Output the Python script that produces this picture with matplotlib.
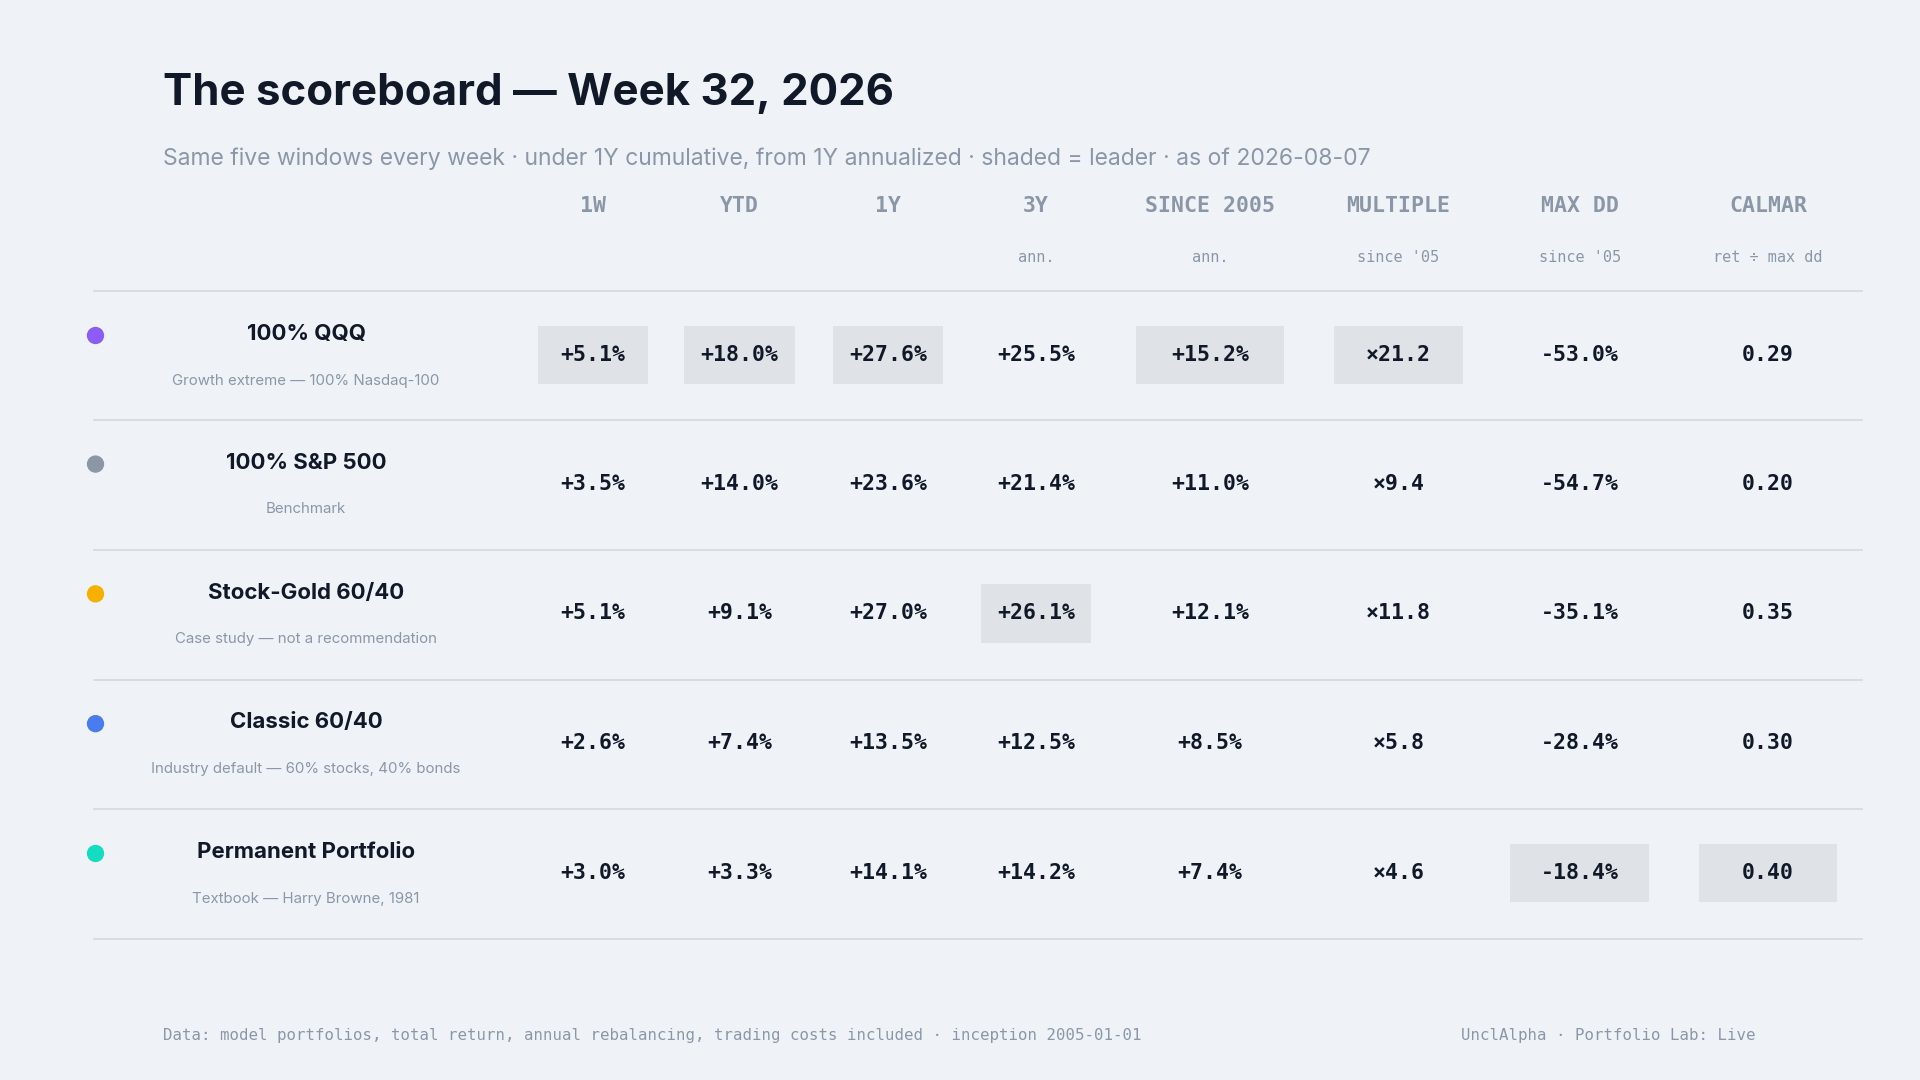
import matplotlib
matplotlib.use("Agg")
import matplotlib.pyplot as plt
from matplotlib.patches import Rectangle, Circle

# data
portfolios = ['100% QQQ', '100% S&P 500', 'Stock-Gold 60/40', 'Classic 60/40', 'Permanent Portfolio']
descriptions = ['Growth extreme — 100% Nasdaq-100', 'Benchmark', 'Case study — not a recommendation',
                'Industry default — 60% stocks, 40% bonds', 'Textbook — Harry Browne, 1981']
dot_colors = ['#8b5cf6', '#8b97a6', '#f5b000', '#4a7cf0', '#14dcc0']
columns = ['1W', 'YTD', '1Y', '3Y', 'SINCE 2005', 'MULTIPLE', 'MAX DD', 'CALMAR']
subheads = ['', '', '', 'ann.', 'ann.', "since '05", "since '05", 'ret ÷ max dd']
ret_1w = ['+5.1%', '+3.5%', '+5.1%', '+2.6%', '+3.0%']
ret_ytd = ['+18.0%', '+14.0%', '+9.1%', '+7.4%', '+3.3%']
ret_1y = ['+27.6%', '+23.6%', '+27.0%', '+13.5%', '+14.1%']
ret_3y = ['+25.5%', '+21.4%', '+26.1%', '+12.5%', '+14.2%']
ret_2005 = ['+15.2%', '+11.0%', '+12.1%', '+8.5%', '+7.4%']
multiple = ['×21.2', '×9.4', '×11.8', '×5.8', '×4.6']
max_dd = ['-53.0%', '-54.7%', '-35.1%', '-28.4%', '-18.4%']
calmar = ['0.29', '0.20', '0.35', '0.30', '0.40']
values = [ret_1w, ret_ytd, ret_1y, ret_3y, ret_2005, multiple, max_dd, calmar]
leaders = [0, 0, 0, 2, 0, 0, 4, 4]   # row index of leader per column

# layout (pixel space of a 1568x882 canvas)
col_x = [484, 604, 725, 846, 988, 1142, 1290, 1444]
box_w = [90, 90, 90, 90, 121, 105, 113, 113]
row_y = [290, 395, 501, 607, 713]
line_y = [238, 343, 449, 555, 661, 767]

BG = '#eff3f8'
DARK = '#111827'
GREY = '#8b97a6'
SHADE = '#dfe2e6'
SANS = ['Inter', 'DejaVu Sans']
MONO = ['DejaVu Sans Mono']

fig = plt.figure(figsize=(19.2, 10.8), dpi=100, facecolor=BG)
ax = fig.add_axes([0, 0, 1, 1])
ax.set_xlim(0, 1568)
ax.set_ylim(882, 0)
ax.axis('off')

ax.text(133, 76, 'The scoreboard — Week 32, 2026', fontsize=31.5, fontweight='bold',
        color=DARK, family=SANS, va='center')
ax.text(133, 130, 'Same five windows every week · under 1Y cumulative, from 1Y annualized · '
        'shaded = leader · as of 2026-08-07', fontsize=16.5, color=GREY, family=SANS, va='center')

for x, c, s in zip(col_x, columns, subheads):
    ax.text(x, 168, c, fontsize=15.5, fontweight='bold', color=GREY, family=MONO, ha='center', va='center')
    if s:
        ax.text(x, 210, s, fontsize=11, color=GREY, family=MONO, ha='center', va='center')

for y in line_y:
    ax.plot([77, 1521], [y, y], color='#d5dbe2', lw=1.3)

for i, (name, desc, dc) in enumerate(zip(portfolios, descriptions, dot_colors)):
    y = row_y[i]
    ax.add_patch(Circle((78, y - 16), 6.5, color=dc))
    ax.text(250, y - 17, name, fontsize=16, fontweight='bold', color=DARK, family=SANS,
            ha='center', va='center')
    ax.text(250, y + 21, desc, fontsize=10.8, color=GREY, family=SANS, ha='center', va='center')

for j, col in enumerate(values):
    for i, v in enumerate(col):
        y = row_y[i]
        if leaders[j] == i:
            ax.add_patch(Rectangle((col_x[j] - box_w[j] / 2, y - 24), box_w[j], 48,
                                   color=SHADE, lw=0))
        ax.text(col_x[j], y, v, fontsize=15.5, fontweight='bold', color=DARK, family=MONO,
                ha='center', va='center')

ax.text(133, 846, 'Data: model portfolios, total return, annual rebalancing, trading costs included · '
        'inception 2005-01-01', fontsize=11.3, color=GREY, family=MONO, va='center')
ax.text(1434, 846, 'UnclAlpha · Portfolio Lab: Live', fontsize=11.3, color=GREY, family=MONO,
        ha='right', va='center')

fig.savefig('out.png', dpi=100, facecolor=BG)
